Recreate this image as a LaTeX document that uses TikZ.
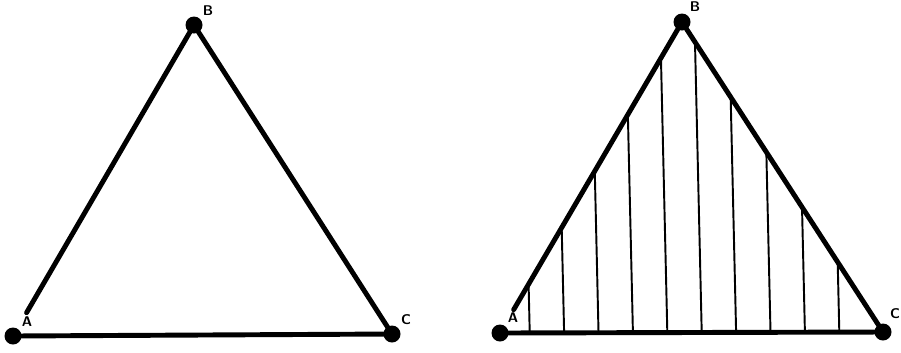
\documentclass[tikz,border=0pt]{standalone}
\usepackage{tikz}
\usetikzlibrary{positioning}

\tikzset{
    edge/.style={line width=2.8pt, line cap=round},
    vertex/.style={circle, fill=black, inner sep=0pt, minimum size=3.4mm},
    hatch/.style={line width=1.1pt},
    vlabel/.style={font=\sffamily\bfseries\footnotesize, inner sep=0pt},
}

\begin{document}
\begin{tikzpicture}[x=0.2mm, y=-0.2mm]

\useasboundingbox (0,0) rectangle (901,352);

% === Left triangle (plain) ===
\node[vertex] (A1) at (13,336) {};
\node[vertex] (B1) at (194,25) {};
\node[vertex] (C1) at (392,334) {};

\draw[edge, shorten >=5.4mm] (B1.center) -- (A1.center);
\draw[edge] (B1.center) -- (C1.center);
\draw[edge] (A1.center) -- (C1.center);

\node[vlabel] (labA1) at (27,322) {A};
\node[vlabel] (labB1) at (208,11) {B};
\node[vlabel] (labC1) at (406,320) {C};

% === Right triangle (hatched) ===
\node[vertex] (A2) at (500,333) {};
\node[vertex] (B2) at (682,22) {};
\node[vertex] (C2) at (883,332) {};

% vertical hatching, clipped to the triangle
\begin{scope}
    \clip (A2.center) -- (B2.center) -- (C2.center) -- cycle;
    \foreach \hx in {0,...,9} {
        \draw[hatch] ({530+34.4*\hx},345) -- ({522+34.4*\hx},0);
    }
\end{scope}

\draw[edge, shorten >=5.4mm] (B2.center) -- (A2.center);
\draw[edge] (B2.center) -- (C2.center);
\draw[edge] (A2.center) -- (C2.center);

\node[vlabel] (labA2) at (513,318) {A};
\node[vlabel] (labB2) at (695,7) {B};
\node[vlabel] (labC2) at (895,314) {C};

\end{tikzpicture}
\end{document}
